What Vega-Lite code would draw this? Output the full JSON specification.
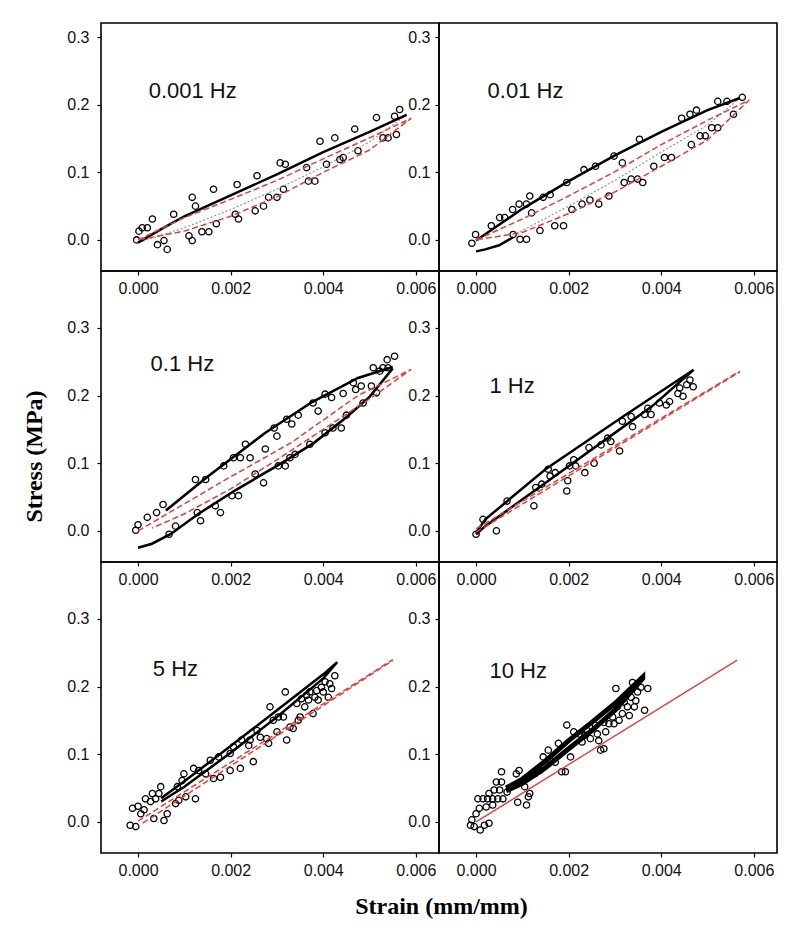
{
"$schema":"https://vega.github.io/schema/vega-lite/v6.json",
"padding":{"left":21,"top":22,"right":5,"bottom":5},
"background":"white",
"config":{"view":{"stroke":"black","strokeWidth":1.6},"axis":{"grid":false,"domain":false,"ticks":true,"tickColor":"black","tickSize":4,"tickWidth":1.2,"labelFont":"Liberation Sans","labelFontSize":16,"labelColor":"#111","labelPadding":5}},
"datasets":{
"pts":[
{"p":1,"x":-0.00003,"y":0.0},{"p":1,"x":0.00002,"y":0.013},{"p":1,"x":0.00009,"y":0.018},{"p":1,"x":0.0002,"y":0.018},{"p":1,"x":0.00031,"y":0.031},{"p":1,"x":0.00042,"y":-0.007},{"p":1,"x":0.00056,"y":-0.001},{"p":1,"x":0.00063,"y":-0.014},{"p":1,"x":0.00077,"y":0.038},{"p":1,"x":0.0011,"y":0.006},{"p":1,"x":0.00117,"y":-0.001},{"p":1,"x":0.00117,"y":0.063},{"p":1,"x":0.00124,"y":0.05},{"p":1,"x":0.00138,"y":0.012},{"p":1,"x":0.00153,"y":0.012},{"p":1,"x":0.00163,"y":0.075},{"p":1,"x":0.00169,"y":0.024},{"p":1,"x":0.0021,"y":0.038},{"p":1,"x":0.00214,"y":0.082},{"p":1,"x":0.00217,"y":0.031},{"p":1,"x":0.00253,"y":0.043},{"p":1,"x":0.00257,"y":0.095},{"p":1,"x":0.00271,"y":0.05},{"p":1,"x":0.00282,"y":0.063},{"p":1,"x":0.003,"y":0.063},{"p":1,"x":0.00307,"y":0.114},{"p":1,"x":0.00314,"y":0.075},{"p":1,"x":0.00318,"y":0.112},{"p":1,"x":0.00364,"y":0.107},{"p":1,"x":0.00368,"y":0.087},{"p":1,"x":0.00382,"y":0.087},{"p":1,"x":0.00393,"y":0.146},{"p":1,"x":0.00407,"y":0.112},{"p":1,"x":0.00425,"y":0.151},{"p":1,"x":0.00436,"y":0.119},{"p":1,"x":0.00443,"y":0.122},{"p":1,"x":0.00468,"y":0.164},{"p":1,"x":0.00475,"y":0.132},{"p":1,"x":0.00515,"y":0.181},{"p":1,"x":0.00529,"y":0.151},{"p":1,"x":0.0054,"y":0.151},{"p":1,"x":0.00554,"y":0.183},{"p":1,"x":0.00558,"y":0.156},{"p":1,"x":0.00565,"y":0.193},
{"p":2,"x":-0.00009,"y":-0.005},{"p":2,"x":-0.00001,"y":0.008},{"p":2,"x":0.00033,"y":0.021},{"p":2,"x":0.00051,"y":0.033},{"p":2,"x":0.00062,"y":0.033},{"p":2,"x":0.00079,"y":0.045},{"p":2,"x":0.0008,"y":0.008},{"p":2,"x":0.00093,"y":0.053},{"p":2,"x":0.00095,"y":0.001},{"p":2,"x":0.00109,"y":0.053},{"p":2,"x":0.00109,"y":0.001},{"p":2,"x":0.00116,"y":0.065},{"p":2,"x":0.0012,"y":0.04},{"p":2,"x":0.00138,"y":0.014},{"p":2,"x":0.00145,"y":0.063},{"p":2,"x":0.0016,"y":0.067},{"p":2,"x":0.0017,"y":0.021},{"p":2,"x":0.00189,"y":0.021},{"p":2,"x":0.00196,"y":0.085},{"p":2,"x":0.00207,"y":0.045},{"p":2,"x":0.00229,"y":0.053},{"p":2,"x":0.00233,"y":0.104},{"p":2,"x":0.00246,"y":0.059},{"p":2,"x":0.00258,"y":0.109},{"p":2,"x":0.00265,"y":0.053},{"p":2,"x":0.00287,"y":0.065},{"p":2,"x":0.00298,"y":0.124},{"p":2,"x":0.00316,"y":0.114},{"p":2,"x":0.0032,"y":0.085},{"p":2,"x":0.00335,"y":0.09},{"p":2,"x":0.00349,"y":0.09},{"p":2,"x":0.00353,"y":0.149},{"p":2,"x":0.0036,"y":0.085},{"p":2,"x":0.00384,"y":0.109},{"p":2,"x":0.00407,"y":0.122},{"p":2,"x":0.00422,"y":0.122},{"p":2,"x":0.00444,"y":0.18},{"p":2,"x":0.00465,"y":0.141},{"p":2,"x":0.00462,"y":0.186},{"p":2,"x":0.00476,"y":0.192},{"p":2,"x":0.00484,"y":0.154},{"p":2,"x":0.00495,"y":0.154},{"p":2,"x":0.00509,"y":0.166},{"p":2,"x":0.00522,"y":0.205},{"p":2,"x":0.00522,"y":0.166},{"p":2,"x":0.00542,"y":0.205},{"p":2,"x":0.00556,"y":0.186},{"p":2,"x":0.00575,"y":0.211},
{"p":3,"x":-0.00005,"y":0.001},{"p":3,"x":0.0,"y":0.009},{"p":3,"x":0.0002,"y":0.02},{"p":3,"x":0.0004,"y":0.027},{"p":3,"x":0.00054,"y":0.039},{"p":3,"x":0.00067,"y":-0.005},{"p":3,"x":0.00081,"y":0.007},{"p":3,"x":0.00124,"y":0.076},{"p":3,"x":0.00135,"y":0.015},{"p":3,"x":0.00128,"y":0.027},{"p":3,"x":0.00146,"y":0.076},{"p":3,"x":0.00167,"y":0.037},{"p":3,"x":0.00178,"y":0.027},{"p":3,"x":0.00185,"y":0.096},{"p":3,"x":0.00203,"y":0.052},{"p":3,"x":0.00206,"y":0.108},{"p":3,"x":0.00217,"y":0.052},{"p":3,"x":0.00221,"y":0.108},{"p":3,"x":0.00232,"y":0.128},{"p":3,"x":0.00242,"y":0.108},{"p":3,"x":0.00253,"y":0.084},{"p":3,"x":0.00271,"y":0.071},{"p":3,"x":0.00275,"y":0.121},{"p":3,"x":0.00294,"y":0.152},{"p":3,"x":0.003,"y":0.14},{"p":3,"x":0.00303,"y":0.096},{"p":3,"x":0.00318,"y":0.096},{"p":3,"x":0.00321,"y":0.165},{"p":3,"x":0.00328,"y":0.108},{"p":3,"x":0.00332,"y":0.158},{"p":3,"x":0.00339,"y":0.113},{"p":3,"x":0.00346,"y":0.171},{"p":3,"x":0.00371,"y":0.128},{"p":3,"x":0.00378,"y":0.189},{"p":3,"x":0.00389,"y":0.177},{"p":3,"x":0.00404,"y":0.145},{"p":3,"x":0.00404,"y":0.202},{"p":3,"x":0.00418,"y":0.197},{"p":3,"x":0.00421,"y":0.152},{"p":3,"x":0.00439,"y":0.152},{"p":3,"x":0.00443,"y":0.203},{"p":3,"x":0.0045,"y":0.171},{"p":3,"x":0.00465,"y":0.219},{"p":3,"x":0.0047,"y":0.209},{"p":3,"x":0.00482,"y":0.214},{"p":3,"x":0.00486,"y":0.189},{"p":3,"x":0.00504,"y":0.214},{"p":3,"x":0.00508,"y":0.241},{"p":3,"x":0.00515,"y":0.204},{"p":3,"x":0.00522,"y":0.236},{"p":3,"x":0.00529,"y":0.241},{"p":3,"x":0.0054,"y":0.241},{"p":3,"x":0.00538,"y":0.253},{"p":3,"x":0.00554,"y":0.258},
{"p":4,"x":0.0,"y":-0.005},{"p":4,"x":0.00015,"y":0.017},{"p":4,"x":0.00044,"y":0.0},{"p":4,"x":0.00067,"y":0.044},{"p":4,"x":0.00125,"y":0.037},{"p":4,"x":0.00129,"y":0.064},{"p":4,"x":0.00142,"y":0.069},{"p":4,"x":0.00156,"y":0.091},{"p":4,"x":0.0016,"y":0.081},{"p":4,"x":0.00171,"y":0.086},{"p":4,"x":0.00196,"y":0.059},{"p":4,"x":0.00198,"y":0.074},{"p":4,"x":0.00202,"y":0.096},{"p":4,"x":0.00211,"y":0.105},{"p":4,"x":0.00215,"y":0.096},{"p":4,"x":0.00235,"y":0.086},{"p":4,"x":0.00244,"y":0.123},{"p":4,"x":0.00255,"y":0.1},{"p":4,"x":0.0027,"y":0.127},{"p":4,"x":0.00284,"y":0.137},{"p":4,"x":0.00291,"y":0.132},{"p":4,"x":0.0031,"y":0.118},{"p":4,"x":0.00316,"y":0.162},{"p":4,"x":0.00335,"y":0.169},{"p":4,"x":0.00338,"y":0.154},{"p":4,"x":0.00364,"y":0.172},{"p":4,"x":0.00371,"y":0.181},{"p":4,"x":0.00378,"y":0.172},{"p":4,"x":0.00396,"y":0.189},{"p":4,"x":0.00411,"y":0.186},{"p":4,"x":0.00418,"y":0.191},{"p":4,"x":0.00436,"y":0.203},{"p":4,"x":0.0044,"y":0.211},{"p":4,"x":0.00447,"y":0.199},{"p":4,"x":0.00455,"y":0.216},{"p":4,"x":0.00462,"y":0.223},{"p":4,"x":0.00469,"y":0.213},
{"p":5,"x":-0.00017,"y":-0.005},{"p":5,"x":-0.00005,"y":-0.007},{"p":5,"x":-0.00012,"y":0.02},{"p":5,"x":0.0,"y":0.023},{"p":5,"x":0.00006,"y":0.012},{"p":5,"x":0.00013,"y":0.018},{"p":5,"x":0.00016,"y":0.034},{"p":5,"x":0.00027,"y":0.03},{"p":5,"x":0.00031,"y":0.042},{"p":5,"x":0.00038,"y":0.034},{"p":5,"x":0.00045,"y":0.042},{"p":5,"x":0.00049,"y":0.052},{"p":5,"x":0.00034,"y":0.005},{"p":5,"x":0.00056,"y":0.002},{"p":5,"x":0.00063,"y":0.012},{"p":5,"x":0.00081,"y":0.027},{"p":5,"x":0.00088,"y":0.032},{"p":5,"x":0.00085,"y":0.052},{"p":5,"x":0.00095,"y":0.061},{"p":5,"x":0.00099,"y":0.071},{"p":5,"x":0.00103,"y":0.037},{"p":5,"x":0.0012,"y":0.079},{"p":5,"x":0.00124,"y":0.034},{"p":5,"x":0.00131,"y":0.076},{"p":5,"x":0.00146,"y":0.071},{"p":5,"x":0.00163,"y":0.064},{"p":5,"x":0.00156,"y":0.091},{"p":5,"x":0.00174,"y":0.096},{"p":5,"x":0.00178,"y":0.066},{"p":5,"x":0.00199,"y":0.101},{"p":5,"x":0.00199,"y":0.076},{"p":5,"x":0.00206,"y":0.111},{"p":5,"x":0.00221,"y":0.079},{"p":5,"x":0.00224,"y":0.121},{"p":5,"x":0.00239,"y":0.113},{"p":5,"x":0.00242,"y":0.121},{"p":5,"x":0.00249,"y":0.089},{"p":5,"x":0.00257,"y":0.135},{"p":5,"x":0.00264,"y":0.125},{"p":5,"x":0.00278,"y":0.123},{"p":5,"x":0.00282,"y":0.116},{"p":5,"x":0.00285,"y":0.17},{"p":5,"x":0.00292,"y":0.15},{"p":5,"x":0.003,"y":0.133},{"p":5,"x":0.00303,"y":0.155},{"p":5,"x":0.00314,"y":0.155},{"p":5,"x":0.00318,"y":0.192},{"p":5,"x":0.00321,"y":0.121},{"p":5,"x":0.00328,"y":0.14},{"p":5,"x":0.00335,"y":0.138},{"p":5,"x":0.00343,"y":0.175},{"p":5,"x":0.00346,"y":0.15},{"p":5,"x":0.00353,"y":0.182},{"p":5,"x":0.0036,"y":0.17},{"p":5,"x":0.00364,"y":0.187},{"p":5,"x":0.00368,"y":0.18},{"p":5,"x":0.00371,"y":0.192},{"p":5,"x":0.00378,"y":0.16},{"p":5,"x":0.00382,"y":0.184},{"p":5,"x":0.00386,"y":0.194},{"p":5,"x":0.00389,"y":0.18},{"p":5,"x":0.00396,"y":0.199},{"p":5,"x":0.004,"y":0.192},{"p":5,"x":0.00404,"y":0.207},{"p":5,"x":0.00411,"y":0.184},{"p":5,"x":0.00414,"y":0.204},{"p":5,"x":0.00418,"y":0.197},{"p":5,"x":0.00425,"y":0.216},{"p":5,"x":0.0035,"y":0.155},
{"p":6,"x":-0.00012,"y":-0.005},{"p":6,"x":-0.00009,"y":0.003},{"p":6,"x":-0.00004,"y":-0.007},{"p":6,"x":0.0,"y":0.012},{"p":6,"x":0.00007,"y":0.02},{"p":6,"x":0.00009,"y":-0.012},{"p":6,"x":0.00018,"y":-0.005},{"p":6,"x":0.00028,"y":-0.002},{"p":6,"x":0.00004,"y":0.034},{"p":6,"x":0.00015,"y":0.034},{"p":6,"x":0.00025,"y":0.034},{"p":6,"x":0.00036,"y":0.034},{"p":6,"x":0.00047,"y":0.034},{"p":6,"x":0.00058,"y":0.034},{"p":6,"x":0.00028,"y":0.042},{"p":6,"x":0.00039,"y":0.047},{"p":6,"x":0.00051,"y":0.047},{"p":6,"x":0.00044,"y":0.059},{"p":6,"x":0.00055,"y":0.059},{"p":6,"x":0.00055,"y":0.074},{"p":6,"x":0.00022,"y":0.022},{"p":6,"x":0.00036,"y":0.025},{"p":6,"x":0.00067,"y":0.044},{"p":6,"x":0.00087,"y":0.071},{"p":6,"x":0.0009,"y":0.029},{"p":6,"x":0.00093,"y":0.076},{"p":6,"x":0.00109,"y":0.025},{"p":6,"x":0.00113,"y":0.037},{"p":6,"x":0.00116,"y":0.042},{"p":6,"x":0.00105,"y":0.052},{"p":6,"x":0.00127,"y":0.071},{"p":6,"x":0.00138,"y":0.076},{"p":6,"x":0.00145,"y":0.096},{"p":6,"x":0.00156,"y":0.106},{"p":6,"x":0.0016,"y":0.091},{"p":6,"x":0.00171,"y":0.088},{"p":6,"x":0.00178,"y":0.116},{"p":6,"x":0.00185,"y":0.074},{"p":6,"x":0.00193,"y":0.074},{"p":6,"x":0.00196,"y":0.143},{"p":6,"x":0.00204,"y":0.096},{"p":6,"x":0.00211,"y":0.133},{"p":6,"x":0.00222,"y":0.13},{"p":6,"x":0.00229,"y":0.118},{"p":6,"x":0.00236,"y":0.128},{"p":6,"x":0.0024,"y":0.135},{"p":6,"x":0.00247,"y":0.123},{"p":6,"x":0.00258,"y":0.143},{"p":6,"x":0.00262,"y":0.13},{"p":6,"x":0.00265,"y":0.12},{"p":6,"x":0.00269,"y":0.106},{"p":6,"x":0.00276,"y":0.108},{"p":6,"x":0.00276,"y":0.147},{"p":6,"x":0.0028,"y":0.133},{"p":6,"x":0.00287,"y":0.145},{"p":6,"x":0.00295,"y":0.155},{"p":6,"x":0.00298,"y":0.145},{"p":6,"x":0.00302,"y":0.197},{"p":6,"x":0.00305,"y":0.17},{"p":6,"x":0.00309,"y":0.15},{"p":6,"x":0.00316,"y":0.16},{"p":6,"x":0.0032,"y":0.177},{"p":6,"x":0.00327,"y":0.17},{"p":6,"x":0.00331,"y":0.157},{"p":6,"x":0.00335,"y":0.184},{"p":6,"x":0.00338,"y":0.206},{"p":6,"x":0.00342,"y":0.17},{"p":6,"x":0.00345,"y":0.179},{"p":6,"x":0.00349,"y":0.192},{"p":6,"x":0.00364,"y":0.165},{"p":6,"x":0.00371,"y":0.197},{"p":6,"x":0.00356,"y":0.199}
],
"cur":[
{"p":1,"k":"k","b":"a","x":0,"y":-0.004},{"p":1,"k":"k","b":"a","x":0.0005,"y":0.016},{"p":1,"k":"k","b":"a","x":0.001,"y":0.035},{"p":1,"k":"k","b":"a","x":0.002,"y":0.066},{"p":1,"k":"k","b":"a","x":0.003,"y":0.097},{"p":1,"k":"k","b":"a","x":0.004,"y":0.13},{"p":1,"k":"k","b":"a","x":0.005,"y":0.16},{"p":1,"k":"k","b":"a","x":0.0058,"y":0.185},
{"p":1,"k":"g","b":"b","x":0.0058,"y":0.185},{"p":1,"k":"g","b":"b","x":0.005,"y":0.145},{"p":1,"k":"g","b":"b","x":0.004,"y":0.108},{"p":1,"k":"g","b":"b","x":0.003,"y":0.075},{"p":1,"k":"g","b":"b","x":0.002,"y":0.045},{"p":1,"k":"g","b":"b","x":0.001,"y":0.018},{"p":1,"k":"g","b":"b","x":0,"y":-0.004},
{"p":1,"k":"r","b":"c","x":0,"y":0},{"p":1,"k":"r","b":"c","x":0.001,"y":0.033},{"p":1,"k":"r","b":"c","x":0.002,"y":0.06},{"p":1,"k":"r","b":"c","x":0.003,"y":0.088},{"p":1,"k":"r","b":"c","x":0.004,"y":0.12},{"p":1,"k":"r","b":"c","x":0.005,"y":0.151},{"p":1,"k":"r","b":"c","x":0.0059,"y":0.18},{"p":1,"k":"r","b":"c","x":0.005,"y":0.133},{"p":1,"k":"r","b":"c","x":0.004,"y":0.1},{"p":1,"k":"r","b":"c","x":0.003,"y":0.064},{"p":1,"k":"r","b":"c","x":0.002,"y":0.035},{"p":1,"k":"r","b":"c","x":0.001,"y":0.013},{"p":1,"k":"r","b":"c","x":0,"y":0},
{"p":2,"k":"k","b":"a","x":0,"y":-0.001},{"p":2,"k":"k","b":"a","x":0.001,"y":0.046},{"p":2,"k":"k","b":"a","x":0.002,"y":0.087},{"p":2,"k":"k","b":"a","x":0.003,"y":0.125},{"p":2,"k":"k","b":"a","x":0.004,"y":0.16},{"p":2,"k":"k","b":"a","x":0.005,"y":0.192},{"p":2,"k":"k","b":"a","x":0.0057,"y":0.21},
{"p":2,"k":"g","b":"b","x":0.0057,"y":0.21},{"p":2,"k":"g","b":"b","x":0.005,"y":0.17},{"p":2,"k":"g","b":"b","x":0.004,"y":0.13},{"p":2,"k":"g","b":"b","x":0.003,"y":0.088},{"p":2,"k":"g","b":"b","x":0.002,"y":0.05},{"p":2,"k":"g","b":"b","x":0.001,"y":0.014},{"p":2,"k":"g","b":"b","x":0.0008,"y":0.004},
{"p":2,"k":"k","b":"d","x":0.0008,"y":0.004},{"p":2,"k":"k","b":"d","x":0.0005,"y":-0.008},{"p":2,"k":"k","b":"d","x":0.0002,"y":-0.014},{"p":2,"k":"k","b":"d","x":0,"y":-0.017},
{"p":2,"k":"r","b":"c","x":0,"y":0},{"p":2,"k":"r","b":"c","x":0.001,"y":0.031},{"p":2,"k":"r","b":"c","x":0.002,"y":0.065},{"p":2,"k":"r","b":"c","x":0.003,"y":0.101},{"p":2,"k":"r","b":"c","x":0.004,"y":0.141},{"p":2,"k":"r","b":"c","x":0.005,"y":0.177},{"p":2,"k":"r","b":"c","x":0.0059,"y":0.207},{"p":2,"k":"r","b":"c","x":0.005,"y":0.148},{"p":2,"k":"r","b":"c","x":0.004,"y":0.109},{"p":2,"k":"r","b":"c","x":0.003,"y":0.071},{"p":2,"k":"r","b":"c","x":0.002,"y":0.039},{"p":2,"k":"r","b":"c","x":0.001,"y":0.011},{"p":2,"k":"r","b":"c","x":0,"y":0},
{"p":3,"k":"k","b":"a","x":0.0006,"y":0.03},{"p":3,"k":"k","b":"a","x":0.0015,"y":0.08},{"p":3,"k":"k","b":"a","x":0.00275,"y":0.145},{"p":3,"k":"k","b":"a","x":0.00375,"y":0.19},{"p":3,"k":"k","b":"a","x":0.00475,"y":0.226},{"p":3,"k":"k","b":"a","x":0.0055,"y":0.242},
{"p":3,"k":"k","b":"b","x":0.0055,"y":0.24},{"p":3,"k":"k","b":"b","x":0.005,"y":0.198},{"p":3,"k":"k","b":"b","x":0.0045,"y":0.168},{"p":3,"k":"k","b":"b","x":0.0038,"y":0.13},{"p":3,"k":"k","b":"b","x":0.0031,"y":0.1},{"p":3,"k":"k","b":"b","x":0.0021,"y":0.06},{"p":3,"k":"k","b":"b","x":0.0013,"y":0.025},{"p":3,"k":"k","b":"b","x":0.0007,"y":-0.005},{"p":3,"k":"k","b":"b","x":0.0003,"y":-0.019},{"p":3,"k":"k","b":"b","x":0,"y":-0.025},
{"p":3,"k":"r","b":"c","x":0,"y":0},{"p":3,"k":"r","b":"c","x":0.001,"y":0.04},{"p":3,"k":"r","b":"c","x":0.0019,"y":0.076},{"p":3,"k":"r","b":"c","x":0.0033,"y":0.13},{"p":3,"k":"r","b":"c","x":0.00475,"y":0.2},{"p":3,"k":"r","b":"c","x":0.0059,"y":0.2386},{"p":3,"k":"r","b":"c","x":0.005,"y":0.195},{"p":3,"k":"r","b":"c","x":0.004,"y":0.15},{"p":3,"k":"r","b":"c","x":0.003,"y":0.105},{"p":3,"k":"r","b":"c","x":0.002,"y":0.062},{"p":3,"k":"r","b":"c","x":0.001,"y":0.025},{"p":3,"k":"r","b":"c","x":0.0003,"y":0.004},
{"p":4,"k":"k","b":"a","x":0,"y":-0.003},{"p":4,"k":"k","b":"a","x":0.0002,"y":0.017},{"p":4,"k":"k","b":"a","x":0.0015,"y":0.091},{"p":4,"k":"k","b":"a","x":0.0032,"y":0.17},{"p":4,"k":"k","b":"a","x":0.0047,"y":0.238},{"p":4,"k":"k","b":"a","x":0.0038,"y":0.184},{"p":4,"k":"k","b":"a","x":0.0029,"y":0.14},{"p":4,"k":"k","b":"a","x":0.0016,"y":0.076},{"p":4,"k":"k","b":"a","x":0.0002,"y":0.007},{"p":4,"k":"k","b":"a","x":0,"y":-0.005},
{"p":4,"k":"r","b":"c","x":0,"y":0.003},{"p":4,"k":"r","b":"c","x":0.0057,"y":0.236},{"p":4,"k":"r","b":"e","x":0,"y":-0.002},{"p":4,"k":"r","b":"e","x":0.0057,"y":0.235},
{"p":5,"k":"k","b":"a","x":0.0005,"y":0.035},{"p":5,"k":"k","b":"a","x":0.001,"y":0.06},{"p":5,"k":"k","b":"a","x":0.002,"y":0.112},{"p":5,"k":"k","b":"a","x":0.003,"y":0.165},{"p":5,"k":"k","b":"a","x":0.004,"y":0.218},{"p":5,"k":"k","b":"a","x":0.0043,"y":0.236},{"p":5,"k":"k","b":"a","x":0.004,"y":0.212},{"p":5,"k":"k","b":"a","x":0.003,"y":0.155},{"p":5,"k":"k","b":"a","x":0.002,"y":0.102},{"p":5,"k":"k","b":"a","x":0.001,"y":0.052},{"p":5,"k":"k","b":"a","x":0.0005,"y":0.03},
{"p":5,"k":"r","b":"c","x":0,"y":0.001},{"p":5,"k":"r","b":"c","x":0.0055,"y":0.2396},{"p":5,"k":"r","b":"e","x":0.0001,"y":-0.002},{"p":5,"k":"r","b":"e","x":0.0055,"y":0.2385},
{"p":6,"k":"k","b":"a","x":0.00065,"y":0.05},{"p":6,"k":"k","b":"a","x":0.001,"y":0.063},{"p":6,"k":"k","b":"a","x":0.0015,"y":0.09},{"p":6,"k":"k","b":"a","x":0.002,"y":0.12},{"p":6,"k":"k","b":"a","x":0.0025,"y":0.147},{"p":6,"k":"k","b":"a","x":0.003,"y":0.175},{"p":6,"k":"k","b":"a","x":0.0036,"y":0.214},{"p":6,"k":"k","b":"a","x":0.0036,"y":0.212},{"p":6,"k":"k","b":"a","x":0.003,"y":0.165},{"p":6,"k":"k","b":"a","x":0.0025,"y":0.135},{"p":6,"k":"k","b":"a","x":0.002,"y":0.108},{"p":6,"k":"k","b":"a","x":0.0015,"y":0.08},{"p":6,"k":"k","b":"a","x":0.001,"y":0.057},{"p":6,"k":"k","b":"a","x":0.00065,"y":0.046},
{"p":6,"k":"r","b":"c","x":0,"y":0},{"p":6,"k":"r","b":"c","x":0.00564,"y":0.239}
],
"lab":[
{"p":1,"x":0.00023,"y":0.21,"t":"0.001 Hz"},{"p":2,"x":0.00025,"y":0.21,"t":"0.01 Hz"},{"p":3,"x":0.00027,"y":0.236,"t":"0.1 Hz"},{"p":4,"x":0.00029,"y":0.204,"t":"1 Hz"},{"p":5,"x":0.00032,"y":0.216,"t":"5 Hz"},{"p":6,"x":0.00029,"y":0.212,"t":"10 Hz"}
]
},
"columns":2,
"spacing":0,
"bounds":"flush",
"concat":[
{"width":338,"height":248,
 "encoding":{"x":{"field":"x","type":"quantitative","scale":{"domain":[-0.0008,0.0065],"nice":false,"zero":false},"axis":{"values":[0,0.002,0.004,0.006],"format":".3f","title":null,"labelFontSize":16,"labelFont":"Liberation Sans"}},
  "y":{"field":"y","type":"quantitative","scale":{"domain":[-0.046,0.321],"nice":false,"zero":false},"axis":{"values":[0,0.1,0.2,0.3],"format":".1f","title":null,"labelPadding":8,"labelFontSize":16,"labelFont":"Liberation Sans"}}},
 "layer":[
  {"data":{"name":"pts"},"transform":[{"filter":"datum.p==1"}],"mark":{"type":"point","shape":"circle","filled":false,"stroke":"black","strokeWidth":1.3,"size":40,"opacity":1}},
  {"data":{"name":"cur"},"transform":[{"filter":"datum.p==1 && datum.k=='g'"}],"mark":{"type":"line","stroke":"#9a9a9a","strokeWidth":1.3,"strokeDash":[2,2]},"encoding":{"detail":{"field":"b"},"order":{"value":null}}},
  {"data":{"name":"cur"},"transform":[{"filter":"datum.p==1 && datum.k=='k'"}],"mark":{"type":"line","stroke":"black","strokeWidth":2.5},"encoding":{"detail":{"field":"b"},"order":{"value":null}}},
  {"data":{"name":"cur"},"transform":[{"filter":"datum.p==1 && datum.k=='r'"}],"mark":{"type":"line","stroke":"#e0403a","strokeWidth":1.5,"strokeDash":[6,3]},"encoding":{"detail":{"field":"b"},"order":{"value":null}}},
  {"data":{"name":"lab"},"transform":[{"filter":"datum.p==1"}],"mark":{"type":"text","align":"left","baseline":"alphabetic","fontSize":22,"font":"Liberation Sans","color":"#111"},"encoding":{"text":{"field":"t"}}}
 ]},
{"width":338,"height":248,
 "encoding":{"x":{"field":"x","type":"quantitative","scale":{"domain":[-0.0008,0.0065],"nice":false,"zero":false},"axis":{"values":[0,0.002,0.004,0.006],"format":".3f","title":null,"labelFontSize":16,"labelFont":"Liberation Sans"}},
  "y":{"field":"y","type":"quantitative","scale":{"domain":[-0.046,0.321],"nice":false,"zero":false},"axis":{"values":[0,0.1,0.2,0.3],"format":".1f","title":null,"labelFontSize":16,"labelFont":"Liberation Sans"}}},
 "layer":[
  {"data":{"name":"pts"},"transform":[{"filter":"datum.p==2"}],"mark":{"type":"point","shape":"circle","filled":false,"stroke":"black","strokeWidth":1.3,"size":40,"opacity":1}},
  {"data":{"name":"cur"},"transform":[{"filter":"datum.p==2 && datum.k=='g'"}],"mark":{"type":"line","stroke":"#9a9a9a","strokeWidth":1.3,"strokeDash":[2,2]},"encoding":{"detail":{"field":"b"},"order":{"value":null}}},
  {"data":{"name":"cur"},"transform":[{"filter":"datum.p==2 && datum.k=='k'"}],"mark":{"type":"line","stroke":"black","strokeWidth":2.5},"encoding":{"detail":{"field":"b"},"order":{"value":null}}},
  {"data":{"name":"cur"},"transform":[{"filter":"datum.p==2 && datum.k=='r'"}],"mark":{"type":"line","stroke":"#e0403a","strokeWidth":1.5,"strokeDash":[6,3]},"encoding":{"detail":{"field":"b"},"order":{"value":null}}},
  {"data":{"name":"lab"},"transform":[{"filter":"datum.p==2"}],"mark":{"type":"text","align":"left","baseline":"alphabetic","fontSize":22,"font":"Liberation Sans","color":"#111"},"encoding":{"text":{"field":"t"}}}
 ]},
{"width":338,"height":291,
 "encoding":{"x":{"field":"x","type":"quantitative","scale":{"domain":[-0.0008,0.0065],"nice":false,"zero":false},"axis":{"values":[0,0.002,0.004,0.006],"format":".3f","title":null,"labelFontSize":16,"labelFont":"Liberation Sans"}},
  "y":{"field":"y","type":"quantitative","scale":{"domain":[-0.046,0.384],"nice":false,"zero":false},"axis":{"values":[0,0.1,0.2,0.3],"format":".1f","labelPadding":8,"labelFontSize":16,"labelFont":"Liberation Sans","title":"Stress (MPa)","titleFont":"Liberation Serif","titleFontWeight":"bold","titleFontSize":24,"titleColor":"black","titleX":-55,"titleY":185,"titleBaseline":"bottom","titleAngle":270}}},
 "layer":[
  {"data":{"name":"pts"},"transform":[{"filter":"datum.p==3"}],"mark":{"type":"point","shape":"circle","filled":false,"stroke":"black","strokeWidth":1.3,"size":40,"opacity":1}},
  {"data":{"name":"cur"},"transform":[{"filter":"datum.p==3 && datum.k=='k'"}],"mark":{"type":"line","stroke":"black","strokeWidth":2.6},"encoding":{"detail":{"field":"b"},"order":{"value":null}}},
  {"data":{"name":"cur"},"transform":[{"filter":"datum.p==3 && datum.k=='r'"}],"mark":{"type":"line","stroke":"#e0403a","strokeWidth":1.5,"strokeDash":[6,3]},"encoding":{"detail":{"field":"b"},"order":{"value":null}}},
  {"data":{"name":"lab"},"transform":[{"filter":"datum.p==3"}],"mark":{"type":"text","align":"left","baseline":"alphabetic","fontSize":22,"font":"Liberation Sans","color":"#111"},"encoding":{"text":{"field":"t"}}}
 ]},
{"width":338,"height":291,
 "encoding":{"x":{"field":"x","type":"quantitative","scale":{"domain":[-0.0008,0.0065],"nice":false,"zero":false},"axis":{"values":[0,0.002,0.004,0.006],"format":".3f","title":null,"labelFontSize":16,"labelFont":"Liberation Sans"}},
  "y":{"field":"y","type":"quantitative","scale":{"domain":[-0.046,0.384],"nice":false,"zero":false},"axis":{"values":[0,0.1,0.2,0.3],"format":".1f","title":null,"labelFontSize":16,"labelFont":"Liberation Sans"}}},
 "layer":[
  {"data":{"name":"pts"},"transform":[{"filter":"datum.p==4"}],"mark":{"type":"point","shape":"circle","filled":false,"stroke":"black","strokeWidth":1.3,"size":40,"opacity":1}},
  {"data":{"name":"cur"},"transform":[{"filter":"datum.p==4 && datum.k=='k'"}],"mark":{"type":"line","stroke":"black","strokeWidth":2.5},"encoding":{"detail":{"field":"b"},"order":{"value":null}}},
  {"data":{"name":"cur"},"transform":[{"filter":"datum.p==4 && datum.k=='r'"}],"mark":{"type":"line","stroke":"#e0403a","strokeWidth":1.5,"strokeDash":[6,3]},"encoding":{"detail":{"field":"b"},"order":{"value":null}}},
  {"data":{"name":"lab"},"transform":[{"filter":"datum.p==4"}],"mark":{"type":"text","align":"left","baseline":"alphabetic","fontSize":22,"font":"Liberation Sans","color":"#111"},"encoding":{"text":{"field":"t"}}}
 ]},
{"width":338,"height":291,
 "encoding":{"x":{"field":"x","type":"quantitative","scale":{"domain":[-0.0008,0.0065],"nice":false,"zero":false},"axis":{"values":[0,0.002,0.004,0.006],"format":".3f","labelFontSize":16,"labelFont":"Liberation Sans","title":"Strain (mm/mm)","titleFont":"Liberation Serif","titleFontWeight":"bold","titleFontSize":24,"titleColor":"black","titleX":340,"titleY":60,"titleBaseline":"alphabetic","titleAlign":"center"}},
  "y":{"field":"y","type":"quantitative","scale":{"domain":[-0.046,0.384],"nice":false,"zero":false},"axis":{"values":[0,0.1,0.2,0.3],"format":".1f","title":null,"labelPadding":8,"labelFontSize":16,"labelFont":"Liberation Sans"}}},
 "layer":[
  {"data":{"name":"pts"},"transform":[{"filter":"datum.p==5"}],"mark":{"type":"point","shape":"circle","filled":false,"stroke":"black","strokeWidth":1.3,"size":40,"opacity":1}},
  {"data":{"name":"cur"},"transform":[{"filter":"datum.p==5 && datum.k=='k'"}],"mark":{"type":"line","stroke":"black","strokeWidth":2.5},"encoding":{"detail":{"field":"b"},"order":{"value":null}}},
  {"data":{"name":"cur"},"transform":[{"filter":"datum.p==5 && datum.k=='r'"}],"mark":{"type":"line","stroke":"#e0403a","strokeWidth":1.5,"strokeDash":[6,3]},"encoding":{"detail":{"field":"b"},"order":{"value":null}}},
  {"data":{"name":"lab"},"transform":[{"filter":"datum.p==5"}],"mark":{"type":"text","align":"left","baseline":"alphabetic","fontSize":22,"font":"Liberation Sans","color":"#111"},"encoding":{"text":{"field":"t"}}}
 ]},
{"width":338,"height":291,
 "encoding":{"x":{"field":"x","type":"quantitative","scale":{"domain":[-0.0008,0.0065],"nice":false,"zero":false},"axis":{"values":[0,0.002,0.004,0.006],"format":".3f","title":null,"labelFontSize":16,"labelFont":"Liberation Sans"}},
  "y":{"field":"y","type":"quantitative","scale":{"domain":[-0.046,0.384],"nice":false,"zero":false},"axis":{"values":[0,0.1,0.2,0.3],"format":".1f","title":null,"labelFontSize":16,"labelFont":"Liberation Sans"}}},
 "layer":[
  {"data":{"name":"pts"},"transform":[{"filter":"datum.p==6"}],"mark":{"type":"point","shape":"circle","filled":false,"stroke":"black","strokeWidth":1.3,"size":40,"opacity":1}},
  {"data":{"name":"cur"},"transform":[{"filter":"datum.p==6 && datum.k=='k'"}],"mark":{"type":"line","stroke":"black","strokeWidth":5},"encoding":{"detail":{"field":"b"},"order":{"value":null}}},
  {"data":{"name":"cur"},"transform":[{"filter":"datum.p==6 && datum.k=='r'"}],"mark":{"type":"line","stroke":"#e0403a","strokeWidth":1.4},"encoding":{"detail":{"field":"b"},"order":{"value":null}}},
  {"data":{"name":"lab"},"transform":[{"filter":"datum.p==6"}],"mark":{"type":"text","align":"left","baseline":"alphabetic","fontSize":22,"font":"Liberation Sans","color":"#111"},"encoding":{"text":{"field":"t"}}}
 ]}
]
}
